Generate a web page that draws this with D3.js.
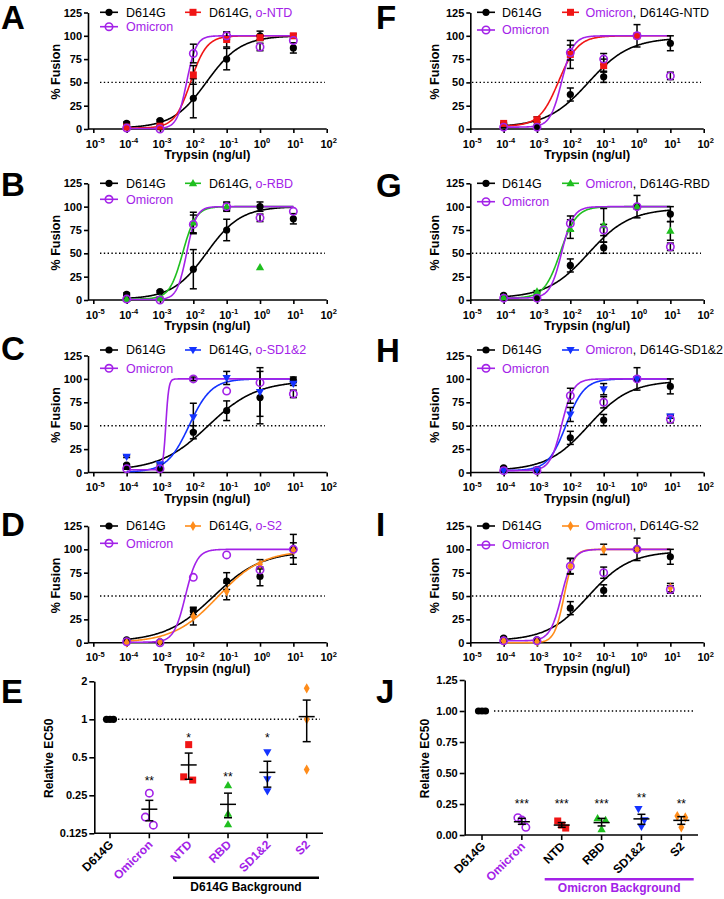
<!DOCTYPE html>
<html><head><meta charset="utf-8">
<script src="https://cdn.jsdelivr.net/npm/d3@7"></script>
<style>
body{margin:0;background:#fff}
svg{display:block}
text{font-family:"Liberation Sans",Arial,Helvetica,sans-serif}
</style></head><body>
<svg id="c" width="724" height="899"></svg>
<script>
// ---------- colours ----------
const PURPLE="#a322e8", RED="#f01515", GREEN="#1fbf1f", BLUE="#1433ff", ORANGE="#ff8c1a", BLACK="#000";

// ---------- shared axis data ----------
const doses=[1e-4,1e-3,1e-2,1e-1,1,10];
const xTickValues=[1e-5,1e-4,1e-3,1e-2,1e-1,1,10,100];
const fusionTicks=[0,25,50,75,100,125];

// ---------- panels A/B (D614G background) ----------
const d614gAB=[6,9,33,75,100,87],   d614gABErr=[1.5,1,21,11.5,5,5.5];
const omicronAB=[1,0,81,100,88,95], omicronABErr=[0.5,0.5,10,4,4,0];
const oNTD=[2,3,58,96,98,100],      oNTDErr=[0.5,1,10,8,2,2];
const oRBD=[1,2,83,100,35,null],    oRBDErr=[0.5,1,11,5,0,0];
// ---------- panel C ----------
const d614gC=[8,4,43,66,80,99],     d614gCErr=[1,1,7,10.5,28,3];
const omicronC=[4,4,100,87,96,84],  omicronCErr=[0.5,0.5,2,0,0,4];
const oSD12=[17,9,59,101,86,95],    oSD12Err=[1,1,15,7,26,2];
// ---------- panel D ----------
const d614gD=[3,1,34,66,71,100],    d614gDErr=[0.5,0.5,4,9,10,16];
const omicronD=[1,0,70,94,78,100],  omicronDErr=[0,0,0,0,0,0];
const oS2=[0,1,28,55,84,99],        oS2Err=[0.5,0.5,9,9,5,8];
// ---------- panels F-I (Omicron background) ----------
const d614gR=[5,3,37,56,100,92],    d614gRErr=[1,0.5,7,6,12,8];
const omicronR=[2,2,82,75,100,57],  omicronRErr=[0.5,0.5,8,6,0,4];
const dNTD=[6,10,80,68,100,null],   dNTDErr=[1,3,15,7,0,0];
const dRBD=[3,9,76,80,100,74],      dRBDErr=[0.5,1,10,18,0,10];
const dSD12=[2,3,62,89,100,60],     dSD12Err=[0.5,0.5,7.5,6,0,2];
const dS2=[2,1,82,100,100,59],      dS2Err=[0.5,0.5,8.5,5.5,0,4.5];

// ---------- fitted 4PL curves: [EC50, Hill, bottom, top] ----------
const fitD614gAB=[0.025,0.85,1,100];
const fitOmicronAB=[0.0063,3,0.5,100];
const fitONTD=[0.0083,1.8,1,100];
const fitORBD=[0.0048,2.2,1,100];
const fitD614gC=[0.028,0.6,2,98];
const fitOmicronC=[0.0015,10,3,100];
const fitOSD12=[0.0075,1.3,0.5,100];
const fitD614gD=[0.04,0.6,1,98];
const fitOmicronD=[0.0058,2.5,0.5,100];
const fitOS2=[0.055,0.65,0,99];
const fitD614gR=[0.035,0.7,2,98];
const fitOmicronR=[0.0055,2.5,2,100];
const fitDNTD=[0.0045,1.5,3,100];
const fitDRBD=[0.005,1.8,2,100];
const fitDSD12=[0.0075,1.6,2,100];
const fitDS2=[0.0065,3,0,100];

// ---------- panel E (relative EC50, log2) ----------
const eCategories=["D614G","Omicron","NTD","RBD","SD1&2","S2"];
const eTicks=[0.125,0.25,0.5,1,2];
const eValues=[[1,1,1],[0.26,0.168,0.145],[0.63,0.35,0.33],[0.30,0.178,0.147],[0.55,0.335,0.27],[1.76,1.0,0.40]];
const eMeans=[null,0.194,0.435,0.212,0.38,1.05];
const eErrLow=[null,0.157,0.335,0.166,0.29,0.665];
const eErrHigh=[null,0.228,0.54,0.26,0.465,1.42];
const eStars=["","**","*","**","*",""];
const eStarAt=[null,0.34,0.74,0.367,0.74,null];
// ---------- panel J (relative EC50, linear) ----------
const jCategories=["D614G","Omicron","NTD","RBD","SD1&2","S2"];
const jTicks=[0,0.25,0.5,0.75,1,1.25];
const jValues=[[1,1,1],[0.14,0.12,0.062],[0.113,0.08,0.056],[0.134,0.12,0.046],[0.21,0.12,0.067],[0.153,0.142,0.062]];
const jMeans=[null,0.107,0.08,0.10,0.13,0.118];
const jErrLow=[null,0.086,0.062,0.073,0.086,0.086];
const jErrHigh=[null,0.134,0.10,0.134,0.167,0.148];
const jStars=["","***","***","***","**","**"];
const jStarAt=[null,0.27,0.27,0.27,0.32,0.27];

// ---------- layout ----------
const colLayout=[
  {axisX:88, x0:93.3, x1:326.7, dotL:100, dotR:325, yTitleX:60, lgLine:[100,118,185,201], lgText:[126,209], letterX:1},
  {axisX:470.3, x0:470.3, x1:703.7, dotL:472, dotR:701, yTitleX:439, lgLine:[477,495,562,579], lgText:[502,585.5], letterX:376}
];
const rowLayout=[
  {y0:129, y125:12.5}, {y0:300, y125:183.3}, {y0:472.5, y125:355.5}, {y0:642.7, y125:526}
];
const legendRows={A:[12.3,26.7],B:[183.3,199.3],C:[350,368.3],D:[526,543.3],F:[12.3,30],G:[183.3,201.7],H:[350,368.3],I:[526,545]};
const letterBase={A:29,B:196,C:360,D:536,E:703,F:29,G:197,H:362,I:536,J:703};

const svg=d3.select("#c");

function drawMarker(g,type,color,x,y){
  if(type==="dot") g.append("circle").attr("cx",x).attr("cy",y).attr("r",3.6).attr("fill",BLACK);
  else if(type==="open") g.append("circle").attr("cx",x).attr("cy",y).attr("r",3.7).attr("fill","none").attr("stroke",color).attr("stroke-width",1.6);
  else if(type==="square") g.append("rect").attr("x",x-3.5).attr("y",y-3.5).attr("width",7).attr("height",7).attr("fill",color);
  else if(type==="tri") g.append("path").attr("d",d3.symbol(d3.symbolTriangle,30)()).attr("transform",`translate(${x},${y+0.5})`).attr("fill",color);
  else if(type==="tridown") g.append("path").attr("d",d3.symbol(d3.symbolTriangle,30)()).attr("transform",`translate(${x},${y-0.5}) rotate(180)`).attr("fill",color);
  else if(type==="diamond") g.append("path").attr("d",d3.symbol(d3.symbolDiamond,30)()).attr("transform",`translate(${x},${y})`).attr("fill",color);
}

function letter(id,x){
  svg.append("text").attr("x",x).attr("y",letterBase[id]).attr("font-size",33).attr("font-weight","bold").text(id);
}

const fusionPanels=[
  {id:"A",col:0,row:0,series:[
    {label:[["D614G",BLACK]],type:"dot",color:BLACK,v:d614gAB,e:d614gABErr,fit:fitD614gAB},
    {label:[["D614G, ",BLACK],["o-NTD",PURPLE]],type:"square",color:RED,v:oNTD,e:oNTDErr,fit:fitONTD},
    {label:[["Omicron",PURPLE]],type:"open",color:PURPLE,v:omicronAB,e:omicronABErr,fit:fitOmicronAB}]},
  {id:"B",col:0,row:1,series:[
    {label:[["D614G",BLACK]],type:"dot",color:BLACK,v:d614gAB,e:d614gABErr,fit:fitD614gAB},
    {label:[["D614G, ",BLACK],["o-RBD",PURPLE]],type:"tri",color:GREEN,v:oRBD,e:oRBDErr,fit:fitORBD},
    {label:[["Omicron",PURPLE]],type:"open",color:PURPLE,v:omicronAB,e:omicronABErr,fit:fitOmicronAB}]},
  {id:"C",col:0,row:2,series:[
    {label:[["D614G",BLACK]],type:"dot",color:BLACK,v:d614gC,e:d614gCErr,fit:fitD614gC},
    {label:[["D614G, ",BLACK],["o-SD1&2",PURPLE]],type:"tridown",color:BLUE,v:oSD12,e:oSD12Err,fit:fitOSD12},
    {label:[["Omicron",PURPLE]],type:"open",color:PURPLE,v:omicronC,e:omicronCErr,fit:fitOmicronC}]},
  {id:"D",col:0,row:3,series:[
    {label:[["D614G",BLACK]],type:"dot",color:BLACK,v:d614gD,e:d614gDErr,fit:fitD614gD},
    {label:[["D614G, ",BLACK],["o-S2",PURPLE]],type:"diamond",color:ORANGE,v:oS2,e:oS2Err,fit:fitOS2},
    {label:[["Omicron",PURPLE]],type:"open",color:PURPLE,v:omicronD,e:omicronDErr,fit:fitOmicronD}]},
  {id:"F",col:1,row:0,series:[
    {label:[["D614G",BLACK]],type:"dot",color:BLACK,v:d614gR,e:d614gRErr,fit:fitD614gR},
    {label:[["Omicron",PURPLE],[", D614G-NTD",BLACK]],type:"square",color:RED,v:dNTD,e:dNTDErr,fit:fitDNTD},
    {label:[["Omicron",PURPLE]],type:"open",color:PURPLE,v:omicronR,e:omicronRErr,fit:fitOmicronR}]},
  {id:"G",col:1,row:1,series:[
    {label:[["D614G",BLACK]],type:"dot",color:BLACK,v:d614gR,e:d614gRErr,fit:fitD614gR},
    {label:[["Omicron",PURPLE],[", D614G-RBD",BLACK]],type:"tri",color:GREEN,v:dRBD,e:dRBDErr,fit:fitDRBD},
    {label:[["Omicron",PURPLE]],type:"open",color:PURPLE,v:omicronR,e:omicronRErr,fit:fitOmicronR}]},
  {id:"H",col:1,row:2,series:[
    {label:[["D614G",BLACK]],type:"dot",color:BLACK,v:d614gR,e:d614gRErr,fit:fitD614gR},
    {label:[["Omicron",PURPLE],[", D614G-SD1&2",BLACK]],type:"tridown",color:BLUE,v:dSD12,e:dSD12Err,fit:fitDSD12},
    {label:[["Omicron",PURPLE]],type:"open",color:PURPLE,v:omicronR,e:omicronRErr,fit:fitOmicronR}]},
  {id:"I",col:1,row:3,series:[
    {label:[["D614G",BLACK]],type:"dot",color:BLACK,v:d614gR,e:d614gRErr,fit:fitD614gR},
    {label:[["Omicron",PURPLE],[", D614G-S2",BLACK]],type:"diamond",color:ORANGE,v:dS2,e:dS2Err,fit:fitDS2},
    {label:[["Omicron",PURPLE]],type:"open",color:PURPLE,v:omicronR,e:omicronRErr,fit:fitOmicronR}]}
];

function model(f,xv){ return f[2]+(f[3]-f[2])/(1+Math.pow(f[0]/xv,f[1])); }

function drawFusion(p){
  const L=colLayout[p.col], R=rowLayout[p.row];
  const x=d3.scaleLog().domain([1e-5,1e2]).range([L.x0,L.x1]);
  const y=d3.scaleLinear().domain([0,125]).range([R.y0,R.y125]);
  const g=svg.append("g");
  g.append("line").attr("x1",L.dotL).attr("x2",L.dotR).attr("y1",y(50)).attr("y2",y(50))
    .attr("stroke",BLACK).attr("stroke-width",1.4).attr("stroke-dasharray","1.4 2.4");
  const ya=g.append("g").attr("transform",`translate(${L.axisX},0)`)
    .call(d3.axisLeft(y).tickValues(fusionTicks).tickSize(4).tickSizeOuter(0).tickPadding(2));
  ya.select(".domain").attr("stroke-width",1.6);
  ya.selectAll(".tick line").attr("stroke-width",1.6);
  ya.selectAll(".tick text").attr("font-size",11).attr("font-weight","bold").attr("font-family",'"Liberation Sans",Arial,sans-serif').attr("fill",BLACK);
  g.append("line").attr("x1",L.axisX).attr("x2",L.x1).attr("y1",R.y0).attr("y2",R.y0).attr("stroke",BLACK).attr("stroke-width",1.6);
  const xa=g.append("g").attr("transform",`translate(0,${R.y0})`)
    .call(d3.axisBottom(x).tickValues(xTickValues).tickSize(4).tickSizeOuter(0).tickFormat(()=>""));
  xa.select(".domain").remove();
  xa.selectAll(".tick line").attr("stroke-width",1.6);
  xTickValues.forEach(v=>{
    const t=g.append("text").attr("x",x(v)+2).attr("y",R.y0+18.5).attr("text-anchor","middle")
      .attr("font-size",11).attr("font-weight","bold");
    t.append("tspan").text("10");
    t.append("tspan").attr("dy",-4.5).attr("font-size",7.5).text(String(Math.round(Math.log10(v))));
  });
  g.append("text").attr("x",(L.axisX+L.x1)/2).attr("y",R.y0+30).attr("text-anchor","middle")
    .attr("font-size",12.5).attr("font-weight","bold").text("Trypsin (ng/ul)");
  g.append("text").attr("transform",`translate(${L.yTitleX},${(R.y0+R.y125)/2+1}) rotate(-90)`).attr("text-anchor","middle")
    .attr("font-size",12.5).attr("font-weight","bold").text("% Fusion");
  const xs=d3.range(-4,1.0001,0.02).map(e=>Math.pow(10,e));
  p.series.forEach(s=>{
    const pts=xs.map(xv=>[x(xv),y(model(s.fit,xv))]);
    g.append("path").attr("d",d3.line()(pts)).attr("fill","none").attr("stroke",s.color).attr("stroke-width",1.6);
  });
  p.series.forEach(s=>{
    s.v.forEach((val,i)=>{
      if(val==null||!s.e[i]) return;
      const cx=x(doses[i]), lo=y(val-s.e[i]), hi=y(val+s.e[i]);
      g.append("line").attr("x1",cx).attr("x2",cx).attr("y1",lo).attr("y2",hi).attr("stroke",BLACK).attr("stroke-width",1.5);
      [lo,hi].forEach(yy=>g.append("line").attr("x1",cx-3.5).attr("x2",cx+3.5).attr("y1",yy).attr("y2",yy).attr("stroke",BLACK).attr("stroke-width",1.5));
    });
  });
  p.series.forEach(s=>{
    s.v.forEach((val,i)=>{ if(val==null) return; drawMarker(g,s.type,s.color,x(doses[i]),y(val)); });
  });
  const rows=legendRows[p.id];
  const slots=[[0,rows[0]],[1,rows[0]],[0,rows[1]]];
  p.series.forEach((s,k)=>{
    const [c,yy]=slots[k];
    const x1=L.lgLine[c*2], x2=L.lgLine[c*2+1];
    g.append("line").attr("x1",x1).attr("x2",x2).attr("y1",yy).attr("y2",yy).attr("stroke",s.color).attr("stroke-width",1.6);
    drawMarker(g,s.type,s.color,(x1+x2)/2,yy);
    const t=g.append("text").attr("x",L.lgText[c]).attr("y",yy+4.3).attr("font-size",12.5);
    s.label.forEach(([txt,col])=>t.append("tspan").attr("fill",col).text(txt));
  });
  letter(p.id,L.letterX);
}
fusionPanels.forEach(drawFusion);

// ---------- scatter panels ----------
const eTypes=[["dot",BLACK],["open",PURPLE],["square",RED],["tri",GREEN],["tridown",BLUE],["diamond",ORANGE]];
const eJitter=[[-3.5,0,3.5],[0,-4,4],[0,-5,4],[0,0,0],[0,0,0],[0,0,0]];
const jJitter=[[-3.5,0,3.5],[-4,0,4],[-4,0,4],[-4,4,0],[-3,3,0],[-4,4,0]];

function drawScatter(cfg){
  const g=svg.append("g");
  const x=d3.scalePoint().domain(cfg.cats).range(cfg.xr);
  const y=cfg.y;
  g.append("line").attr("x1",cfg.dot[0]).attr("x2",cfg.dot[1]).attr("y1",y(1)).attr("y2",y(1))
    .attr("stroke",BLACK).attr("stroke-width",1.4).attr("stroke-dasharray","1.4 2.4");
  const ya=g.append("g").attr("transform",`translate(${cfg.axisX},0)`)
    .call(d3.axisLeft(y).tickValues(cfg.ticks).tickFormat(cfg.fmt).tickSize(5).tickSizeOuter(0).tickPadding(2));
  ya.select(".domain").attr("stroke-width",1.6);
  ya.selectAll(".tick line").attr("stroke-width",1.6);
  ya.selectAll(".tick text").attr("font-size",11).attr("font-weight","bold").attr("font-family",'"Liberation Sans",Arial,sans-serif').attr("fill",BLACK);
  const y0=cfg.y0;
  g.append("line").attr("x1",cfg.axisX).attr("x2",cfg.xEnd).attr("y1",y0).attr("y2",y0).attr("stroke",BLACK).attr("stroke-width",1.6);
  cfg.cats.forEach((c,i)=>{
    const cx=x(c);
    g.append("line").attr("x1",cx).attr("x2",cx).attr("y1",y0).attr("y2",y0+5).attr("stroke",BLACK).attr("stroke-width",1.6);
    g.append("text").attr("transform",`translate(${cx+4},${y0+12}) rotate(-45)`).attr("text-anchor","end")
      .attr("font-size",12).attr("font-weight","bold").attr("fill",cfg.labelColors[i]).text(c);
    cfg.values[i].forEach((v,k)=>drawMarker(g,eTypes[i][0],eTypes[i][1],cx+cfg.jitter[i][k],y(v)));
    if(cfg.means[i]!=null){
      const m=y(cfg.means[i]), lo=y(cfg.lo[i]), hi=y(cfg.hi[i]);
      g.append("line").attr("x1",cx-8).attr("x2",cx+8).attr("y1",m).attr("y2",m).attr("stroke",BLACK).attr("stroke-width",1.5);
      g.append("line").attr("x1",cx).attr("x2",cx).attr("y1",lo).attr("y2",hi).attr("stroke",BLACK).attr("stroke-width",1.5);
      [lo,hi].forEach(yy=>g.append("line").attr("x1",cx-4).attr("x2",cx+4).attr("y1",yy).attr("y2",yy).attr("stroke",BLACK).attr("stroke-width",1.5));
    }
    if(cfg.stars[i]) g.append("text").attr("x",cx).attr("y",y(cfg.starAt[i])+6.5).attr("text-anchor","middle")
      .attr("font-size",12).text(cfg.stars[i]);
  });
  g.append("text").attr("transform",`translate(${cfg.titleX},${(cfg.yTop+y0)/2+1}) rotate(-90)`).attr("text-anchor","middle")
    .attr("font-size",12).attr("font-weight","bold").text("Relative EC50");
  g.append("line").attr("x1",cfg.bg[0]).attr("x2",cfg.bg[1]).attr("y1",cfg.bg[2]).attr("y2",cfg.bg[2]).attr("stroke",cfg.bgColor).attr("stroke-width",2.5);
  g.append("text").attr("x",(cfg.bg[0]+cfg.bg[1])/2).attr("y",cfg.bg[2]+13).attr("text-anchor","middle")
    .attr("font-size",12).attr("font-weight","bold").attr("fill",cfg.bgColor).text(cfg.bgText);
}

drawScatter({
  cats:eCategories, xr:[110,306.7], axisX:94.3, xEnd:323, y0:833.3, yTop:681.3,
  y:d3.scaleLog().base(2).domain([0.125,2]).range([833.3,681.3]),
  ticks:eTicks, fmt:d=>String(d), dot:[118,320], titleX:53,
  values:eValues, means:eMeans, lo:eErrLow, hi:eErrHigh, stars:eStars, starAt:eStarAt, jitter:eJitter,
  labelColors:[BLACK,PURPLE,PURPLE,PURPLE,PURPLE,PURPLE],
  bg:[173,319,877.7], bgColor:BLACK, bgText:"D614G Background"
});
drawScatter({
  cats:jCategories, xr:[482,681.3], axisX:464.7, xEnd:698, y0:835, yTop:680,
  y:d3.scaleLinear().domain([0,1.25]).range([835,680]),
  ticks:jTicks, fmt:d3.format(".2f"), dot:[494,695], titleX:429,
  values:jValues, means:jMeans, lo:jErrLow, hi:jErrHigh, stars:jStars, starAt:jStarAt, jitter:jJitter,
  labelColors:[BLACK,PURPLE,BLACK,BLACK,BLACK,BLACK],
  bg:[544.7,693.7,879.3], bgColor:PURPLE, bgText:"Omicron Background"
});
letter("E",1);
letter("J",376);
</script>
</body></html>
